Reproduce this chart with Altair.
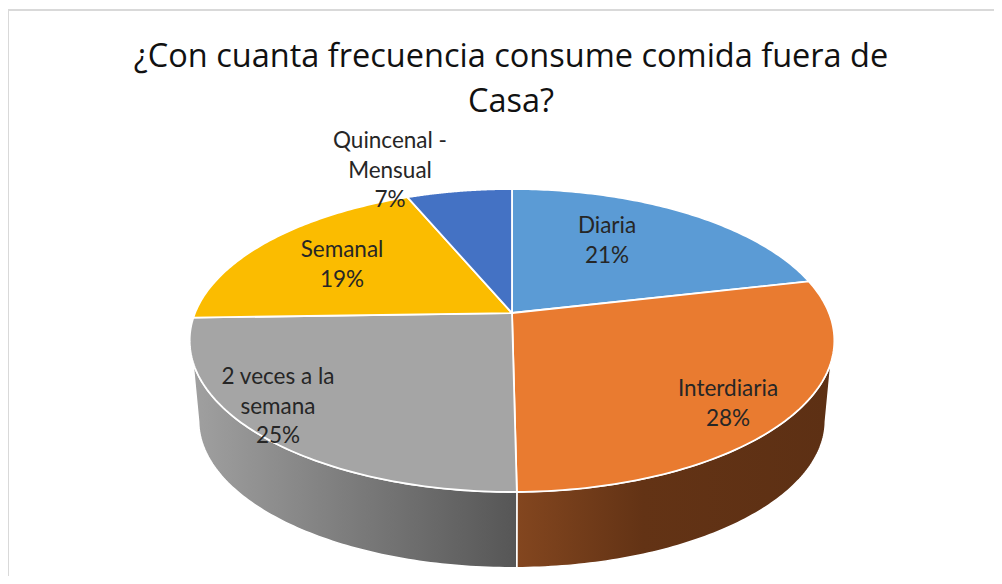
import math
import altair as alt

# --- values ---
TITLE = ["¿Con cuanta frecuencia consume comida fuera de", "Casa?"]
categories = ["Diaria", "Interdiaria", "2 veces a la semana", "Semanal", "Quincenal - Mensual"]
shares = [21.4, 28.4, 24.7, 19.2, 6.3]
colors = ["#5b9bd5", "#e97b30", "#a5a5a5", "#fbbc00", "#4472c4"]
label_text = ["Diaria\n21%", "Interdiaria\n28%", "2 veces a la\nsemana\n25%", "Semanal\n19%", "Quincenal -\nMensual\n7%"]
label_x = [607, 728, 278, 342, 390]
label_y = [226, 389, 377, 250, 141]

# --- layout of the tilted pie (page pixels) ---
CX, CY = 512, 313
R, H, K = 317, 146.5, 0.1815
DROP, SHRINK, MID_Y = 80, 0.972, 340


def rim(deg):
    t = math.radians(deg)
    u, v = math.sin(t), math.cos(t)
    w = 1 + K * v
    return [CX + R * u / w, CY - H * v / w]


def floor_rim(deg):
    x, y = rim(deg)
    return [CX + SHRINK * (x - CX), MID_Y + DROP + SHRINK * (y - MID_Y)]


def sweep(a, b, n=90):
    return [a + (b - a) * i / n for i in range(n + 1)]


total = sum(shares)
edges = [0.0]
for s in shares:
    edges.append(edges[-1] + 360 * s / total)


def feature(name, ring):
    ring = [list(p) for p in ring]
    ring.append(ring[0])
    return {"type": "Feature", "properties": {"name": name}, "geometry": {"type": "Polygon", "coordinates": [ring]}}


def geo(features):
    return alt.Data(values={"type": "FeatureCollection", "features": features},
                    format=alt.DataFormat(property="features", type="json"))


proj = alt.Projection(type="identity", scale=1, translate=[-8, -8])

slices = [
    feature(c, [[CX, CY]] + [rim(d) for d in sweep(edges[i], edges[i + 1])])
    for i, c in enumerate(categories)
]

wall_orange = feature("Interdiaria wall",
                      [rim(d) for d in sweep(108.4, edges[2])] + [floor_rim(d) for d in sweep(edges[2], 101)])
wall_gray = feature("2 veces wall",
                    [rim(d) for d in sweep(edges[2], 251.6)] + [floor_rim(d) for d in sweep(259, edges[2])])

grad_orange = alt.Gradient(gradient="linear", x1=0, x2=1, y1=0, y2=0, stops=[
    alt.GradientStop(offset=0, color="#83461f"),
    alt.GradientStop(offset=0.4, color="#633315"),
    alt.GradientStop(offset=1, color="#5d3014"),
])
grad_gray = alt.Gradient(gradient="linear", x1=1, x2=0, y1=0, y2=0, stops=[
    alt.GradientStop(offset=0, color="#565656"),
    alt.GradientStop(offset=1, color="#a0a0a0"),
])

wall1 = alt.Chart(geo([wall_orange])).mark_geoshape(fill=grad_orange, stroke="white", strokeWidth=1.5).project(**proj.to_dict())
wall2 = alt.Chart(geo([wall_gray])).mark_geoshape(fill=grad_gray, stroke="white", strokeWidth=1.5).project(**proj.to_dict())

top = alt.Chart(geo(slices)).mark_geoshape(stroke="white", strokeWidth=1.8).encode(
    color=alt.Color("properties.name:N", scale=alt.Scale(domain=categories, range=colors), legend=None)
).project(**proj.to_dict())

labels = alt.Chart(alt.Data(values=[
    {"t": t, "lon": x, "lat": y} for t, x, y in zip(label_text, label_x, label_y)
])).mark_text(font="Lato", fontSize=22.5, color="#262626", lineBreak="\n", lineHeight=29.5,
              align="center", baseline="middle").encode(
    longitude="lon:Q", latitude="lat:Q", text="t:N"
).project(**proj.to_dict())

frame_top = alt.Chart(alt.Data(values=[{"a": 1}])).mark_rule(color="#d9d9d9", strokeWidth=2).encode(
    x=alt.value(0), x2=alt.value(986), y=alt.value(2))
frame_left = alt.Chart(alt.Data(values=[{"a": 1}])).mark_rule(color="#d9d9d9", strokeWidth=2).encode(
    x=alt.value(0), y=alt.value(1), y2=alt.value(568))

chart = alt.layer(frame_top, frame_left, wall1, wall2, top, labels).properties(
    width=986, height=568, padding=0, autosize=alt.AutoSizeParams(type="none"),
    title=alt.TitleParams(text=TITLE, font="Open Sans", fontSize=32.5, fontWeight="normal", color="#111111",
                          lineHeight=45, anchor="middle", frame="group", dx=10, dy=140, baseline="alphabetic"),
).configure_view(stroke=None)

chart.save("out.html", embed_options={"renderer": "svg", "actions": False})
